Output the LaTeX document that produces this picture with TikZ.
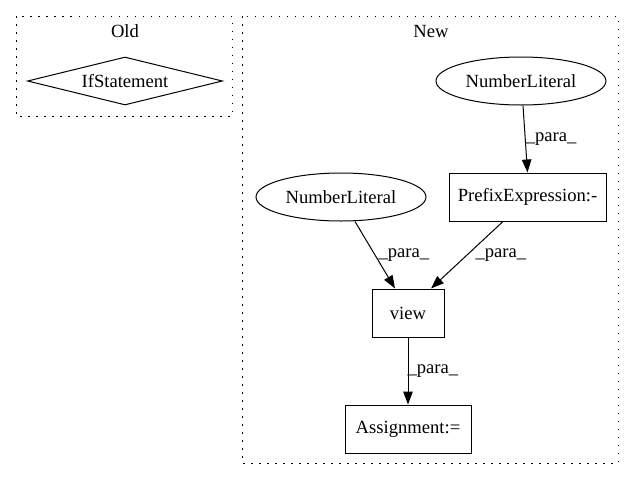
\documentclass[tikz,border=0pt]{standalone}
\usepackage{fontspec}
\setmainfont{Liberation Serif}
\usetikzlibrary{shapes.geometric,arrows.meta}
\begin{document}
\begin{tikzpicture}[x=1pt,y=-1pt,
  every node/.style={font=\fontsize{18.6pt}{21pt}\selectfont},
  cluster/.style={draw, line width=1pt, dash pattern=on 1.5pt off 6.5pt},
  boxnode/.style={draw, line width=1pt, rectangle, inner sep=0pt},
  ellnode/.style={draw, line width=1pt, ellipse, minimum width=170pt, minimum height=48pt, inner sep=0pt},
  edge/.style={draw, line width=1pt, -{Triangle[length=13pt,width=9.5pt]}},
  lbl/.style={anchor=west, inner sep=0pt}
]
\useasboundingbox (0,0) rectangle (633,480);
% clusters
\draw[cluster] (16,16) rectangle (232,116);
\node (oldlbl) at (125,31) {Old};
\draw[cluster] (242,16) rectangle (618,463);
\node (newlbl) at (431,31) {New};
% nodes
\node[draw, line width=1pt, diamond, aspect=4, minimum width=195pt, minimum height=48pt, inner sep=0pt] (ifs) at (125,81) {IfStatement};
\node[ellnode] (nl1) at (521,81) {NumberLiteral};
\node[ellnode] (nl2) at (341,197) {NumberLiteral};
\node[boxnode, minimum width=157pt, minimum height=48pt] (pre) at (527.5,197) {PrefixExpression:-};
\node[boxnode, minimum width=72pt, minimum height=48pt] (view) at (408,313) {view};
\node[boxnode, minimum width=126pt, minimum height=48pt] (asg) at (408,429) {Assignment:=};
% edges
\draw[edge] ([xshift=2pt]nl1.south) -- (pre.north) node[midway, lbl, xshift=0pt] {\_para\_};
\draw[edge] ([xshift=14pt]nl2.south) -- ([xshift=-13pt]view.north) node[midway, lbl, xshift=3pt] {\_para\_};
\draw[edge] ([xshift=-24.5pt]pre.south) -- ([xshift=23pt]view.north) node[midway, lbl, xshift=8pt] {\_para\_};
\draw[edge] (view.south) -- (asg.north) node[midway, lbl, xshift=-1pt] {\_para\_};
\end{tikzpicture}
\end{document}
